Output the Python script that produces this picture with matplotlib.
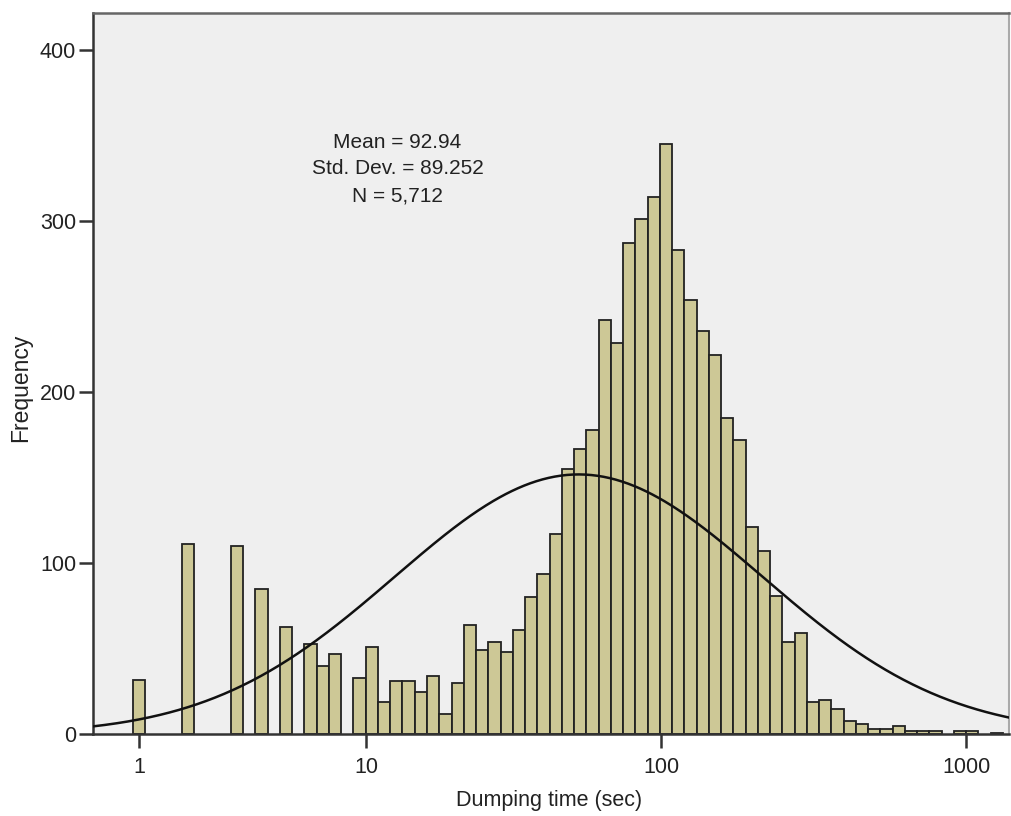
import numpy as np
import matplotlib
matplotlib.use("Agg")
import matplotlib.pyplot as plt
from matplotlib.ticker import NullLocator

plt.rcParams['font.family'] = ['Liberation Sans', 'DejaVu Sans']

# histogram of log10(t + 1), bins of 0.04 starting at 0.28
bin_start = 0.28
bin_width = 0.04
counts = [32, 0, 0, 0, 111, 0, 0, 0, 110, 0, 85, 0, 63, 0, 53, 40, 47, 0,
          33, 51, 19, 31, 31, 25, 34, 12, 30, 64, 49, 54, 48, 61, 80, 94,
          117, 155, 167, 178, 242, 229, 287, 301, 314, 345, 283, 254, 236,
          222, 185, 172, 121, 107, 81, 54, 59, 19, 20, 15, 8, 6, 3, 3, 5,
          2, 2, 2, 0, 2, 2, 0, 1]

# normal curve fitted in log10(t + 1) space
n_total = 5712
curve_mu = 1.735
curve_sd = 0.60

stats_lines = ["Mean = 92.94", "Std. Dev. = 89.252", "N = 5,712"]
xticks = [1, 10, 100, 1000]
yticks = [0, 100, 200, 300, 400]


def fwd(t):
    return np.log10(np.maximum(t, -0.999999) + 1)


def inv(u):
    return 10 ** u - 1


fig = plt.figure(figsize=(10.11, 8.16), dpi=100)
ax = fig.add_axes([0.0917, 0.1001, 0.9063, 0.8839])
ax.set_facecolor('#efefef')
ax.set_xscale('function', functions=(fwd, inv))

counts = np.array(counts)
u_lo = bin_start + bin_width * np.arange(len(counts))
t_lo = inv(u_lo)
t_hi = inv(u_lo + bin_width)
keep = counts > 0
ax.bar(t_lo[keep], counts[keep], width=(t_hi - t_lo)[keep], align='edge',
       color='#cdc896', edgecolor='#222222', linewidth=1.3, zorder=2)

xlim = (inv(0.1489), inv(3.1395))
u = np.linspace(0.1489, 3.1395, 600)
dens = n_total * bin_width / (curve_sd * np.sqrt(2 * np.pi)) * \
    np.exp(-0.5 * ((u - curve_mu) / curve_sd) ** 2)
ax.plot(inv(u), dens, color='#111111', linewidth=1.8, zorder=3)

ax.set_xlim(xlim)
ax.set_ylim(0, 421.6)
ax.set_xticks(xticks)
ax.set_xticklabels([str(v) for v in xticks])
ax.xaxis.set_minor_locator(NullLocator())
ax.set_yticks(yticks)

ax.tick_params(axis='both', direction='out', length=10, width=1.8,
               color='#333333', labelsize=15.5, labelcolor='#222222')
ax.tick_params(axis='x', pad=6)
ax.tick_params(axis='y', pad=2)

for side in ['left', 'bottom']:
    ax.spines[side].set_color('#333333')
    ax.spines[side].set_linewidth(1.8)
ax.spines['top'].set_color('#666666')
ax.spines['top'].set_linewidth(1.8)
ax.spines['right'].set_color('#aaaaaa')
ax.spines['right'].set_linewidth(1.5)

ax.set_xlabel('Dumping time (sec)', fontsize=15.5, color='#222222', va='center')
ax.xaxis.set_label_coords(0.4977, -0.0917)
ax.set_ylabel('Frequency', fontsize=16.5, color='#222222', va='center')
ax.yaxis.set_label_coords(-0.0784, 0.4807)

for line, yf in zip(stats_lines, [0.8124, 0.7764, 0.7394]):
    ax.text(0.3326, yf, line, transform=ax.transAxes, ha='center',
            va='baseline', fontsize=15, color='#222222')

fig.savefig('out.png', dpi=100)
